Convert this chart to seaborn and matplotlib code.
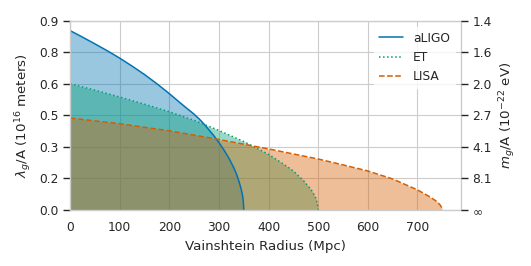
import numpy as np
import pandas as pd
import matplotlib
matplotlib.use("Agg")
import matplotlib.pyplot as plt
import seaborn as sns

# graphs set-up
sns.set_theme(style="whitegrid", context="paper", palette="colorblind")
plt.rcParams['font.family'] = ['DejaVu Sans']

# values (Vainshtein radius in Mpc, lambda_g/A)
aligo_r = [0, 25, 50, 75, 100, 125, 150, 175, 200, 225, 250, 260, 270, 280, 290,
           300, 310, 320, 330, 335, 340, 344, 347, 349, 350]
aligo_lam = [0.853, 0.822, 0.790, 0.757, 0.722, 0.684, 0.644, 0.600, 0.553, 0.503,
             0.455, 0.433, 0.408, 0.380, 0.352, 0.320, 0.285, 0.246, 0.200, 0.172,
             0.138, 0.105, 0.075, 0.042, 0.0]
et_r = [0, 50, 100, 150, 200, 250, 300, 350, 400, 430, 450, 470, 485, 490, 495,
        498, 500]
et_lam = [0.600, 0.570, 0.537, 0.503, 0.467, 0.426, 0.378, 0.325, 0.264, 0.218,
          0.185, 0.140, 0.098, 0.080, 0.056, 0.032, 0.0]
lisa_r = [0, 100, 200, 300, 400, 500, 550, 600, 650, 700, 725, 740, 746, 749, 750]
lisa_lam = [0.437, 0.410, 0.376, 0.335, 0.290, 0.242, 0.214, 0.185, 0.147, 0.095,
            0.062, 0.038, 0.022, 0.010, 0.0]

detectors = ['aLIGO', 'ET', 'LISA']
xticks = [0, 100, 200, 300, 400, 500, 600, 700]
yticks = [0.0, 0.15, 0.3, 0.45, 0.6, 0.75, 0.9]
ytick_labels = ['0.0', '0.2', '0.3', '0.5', '0.6', '0.8', '0.9']
mass_labels = ['$\\infty$', '8.1', '4.1', '2.7', '2.0', '1.6', '1.4']

pal = sns.color_palette("colorblind")
colours = [pal[0], pal[2], pal[3]]
styles = ['-', ':', '--']

fig = plt.figure(figsize=(5.31, 2.66), dpi=100)
ax = fig.add_axes([0.132, 0.211, 0.736, 0.711])

series = [(aligo_r, aligo_lam), (et_r, et_lam), (lisa_r, lisa_lam)]
for (r, lam), name, c, ls in zip(series, detectors, colours, styles):
    df = pd.DataFrame({'r': r, 'lam': lam})
    ax.fill_between(df['r'], df['lam'], color=c, alpha=0.4, linewidth=0)
    sns.lineplot(data=df, x='r', y='lam', ax=ax, color=c, linestyle=ls,
                 linewidth=1.1, label=name)

ax.set_xlim(0, 787.5)
ax.set_ylim(0, 0.9)
ax.set_xticks(xticks)
ax.set_yticks(yticks)
ax.set_yticklabels(ytick_labels)
ax.set_xlabel('Vainshtein Radius (Mpc)')
ax.set_ylabel('$\\lambda_g$/A ($10^{16}$ meters)')

leg = ax.legend(loc='upper right', frameon=True, edgecolor='white')

# mass axis on the right
ax2 = ax.twinx()
ax2.set_ylim(0, 0.9)
ax2.set_yticks(yticks)
ax2.set_yticklabels(mass_labels)
ax2.grid(False)
ax2.set_ylabel('$m_g$/A ($10^{-22}$ eV)')
for s in ax2.spines.values():
    s.set_visible(False)

fig.savefig('out.png', dpi=100)
